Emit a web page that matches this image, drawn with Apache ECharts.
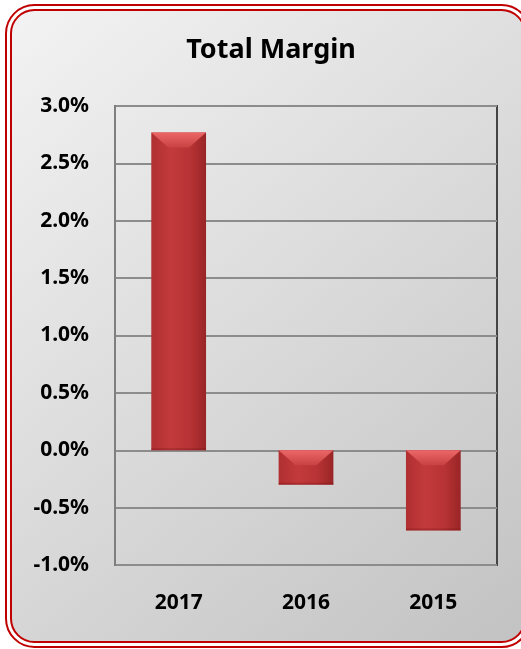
<!DOCTYPE html>
<html>
<head>
<meta charset="utf-8">
<script src="https://cdn.jsdelivr.net/npm/echarts@6/dist/echarts.min.js"></script>
<style>
  html, body { margin: 0; padding: 0; background: #ffffff; }
  #chart { width: 521px; height: 649px; }
</style>
</head>
<body>
<div id="chart"></div>
<script>
// Total margin by year, in percent
const years = ['2017', '2016', '2015'];
const marginPct = [2.77, -0.30, -0.70];
const yTicks = { min: -1.0, max: 3.0, step: 0.5 };

const chart = echarts.init(document.getElementById('chart'), null, { renderer: 'canvas' });

// Bar with a bevelled top edge, positioned through the axes
function renderBevelBar(params, api) {
  const idx = api.value(0);
  const val = api.value(1);
  const base = api.coord([idx, 0]);
  const tip = api.coord([idx, val]);
  const w = api.size([1, 0])[0] * 0.43;
  const x = base[0] - w / 2;
  const top = Math.min(base[1], tip[1]);
  const h = Math.abs(base[1] - tip[1]);
  const bh = Math.min(15, h * 0.45);
  const inset = Math.min(17, w * 0.32);
  return {
    type: 'group',
    children: [
      {
        type: 'rect',
        shape: { x: x, y: top, width: w, height: h },
        style: {
          fill: new echarts.graphic.LinearGradient(0, 0, 1, 0, [
            { offset: 0, color: '#b02f30' },
            { offset: 0.35, color: '#c23a3c' },
            { offset: 0.7, color: '#b83335' },
            { offset: 1, color: '#992526' }
          ])
        }
      },
      {
        type: 'polygon',
        shape: { points: [[x, top], [x + w, top], [x + w - inset, top + bh], [x + inset, top + bh]] },
        style: {
          fill: new echarts.graphic.LinearGradient(0, 0, 0, 1, [
            { offset: 0, color: '#ec6767' },
            { offset: 1, color: '#c94243' }
          ])
        }
      },
      {
        type: 'rect',
        shape: { x: x, y: top + h - 2, width: w, height: 2 },
        style: { fill: 'rgba(120,20,20,0.35)' }
      }
    ]
  };
}

const frame = { x: 8.5, y: 7.5, width: 519, height: 637, r: 26 };

const option = {
  backgroundColor: '#ffffff',
  animation: false,
  title: {
    text: 'Total Margin',
    left: 266,
    textAlign: 'center',
    top: 32,
    textStyle: { fontFamily: 'Noto Sans', fontWeight: 'bold', fontSize: 27, color: '#000000' }
  },
  graphic: [
    {
      type: 'rect',
      z: -10,
      shape: frame,
      style: {
        fill: new echarts.graphic.LinearGradient(0, 0, 1, 1, [
          { offset: 0, color: '#f3f3f3' },
          { offset: 1, color: '#c2c2c2' }
        ])
      }
    },
    {
      type: 'rect',
      z: 100,
      shape: frame,
      style: { fill: 'none', stroke: '#c00000', lineWidth: 7 }
    },
    {
      type: 'rect',
      z: 101,
      shape: frame,
      style: { fill: 'none', stroke: '#ffffff', lineWidth: 3 }
    }
  ],
  grid: {
    left: 115, right: 24, top: 106, bottom: 84,
    show: true,
    backgroundColor: 'transparent',
    borderColor: '#444444',
    borderWidth: 2
  },
  xAxis: {
    type: 'category',
    data: years,
    position: 'bottom',
    axisLine: { show: false, onZero: false },
    axisTick: { show: false },
    axisLabel: {
      margin: 28,
      fontFamily: 'Noto Sans', fontWeight: 'bold', fontSize: 21, color: '#000000'
    }
  },
  yAxis: {
    type: 'value',
    min: yTicks.min,
    max: yTicks.max,
    interval: yTicks.step,
    axisLine: { show: true, lineStyle: { color: '#7f7f7f', width: 2 } },
    axisTick: { show: false },
    splitLine: { show: true, lineStyle: { color: '#8c8c8c', width: 2 } },
    axisLabel: {
      margin: 26,
      fontFamily: 'Noto Sans', fontWeight: 'bold', fontSize: 21, color: '#000000',
      formatter: v => v.toFixed(1) + '%'
    }
  },
  series: [{
    type: 'custom',
    renderItem: renderBevelBar,
    encode: { x: 0, y: 1 },
    data: marginPct.map((v, i) => [i, v])
  }]
};

chart.setOption(option);
</script>
</body>
</html>
